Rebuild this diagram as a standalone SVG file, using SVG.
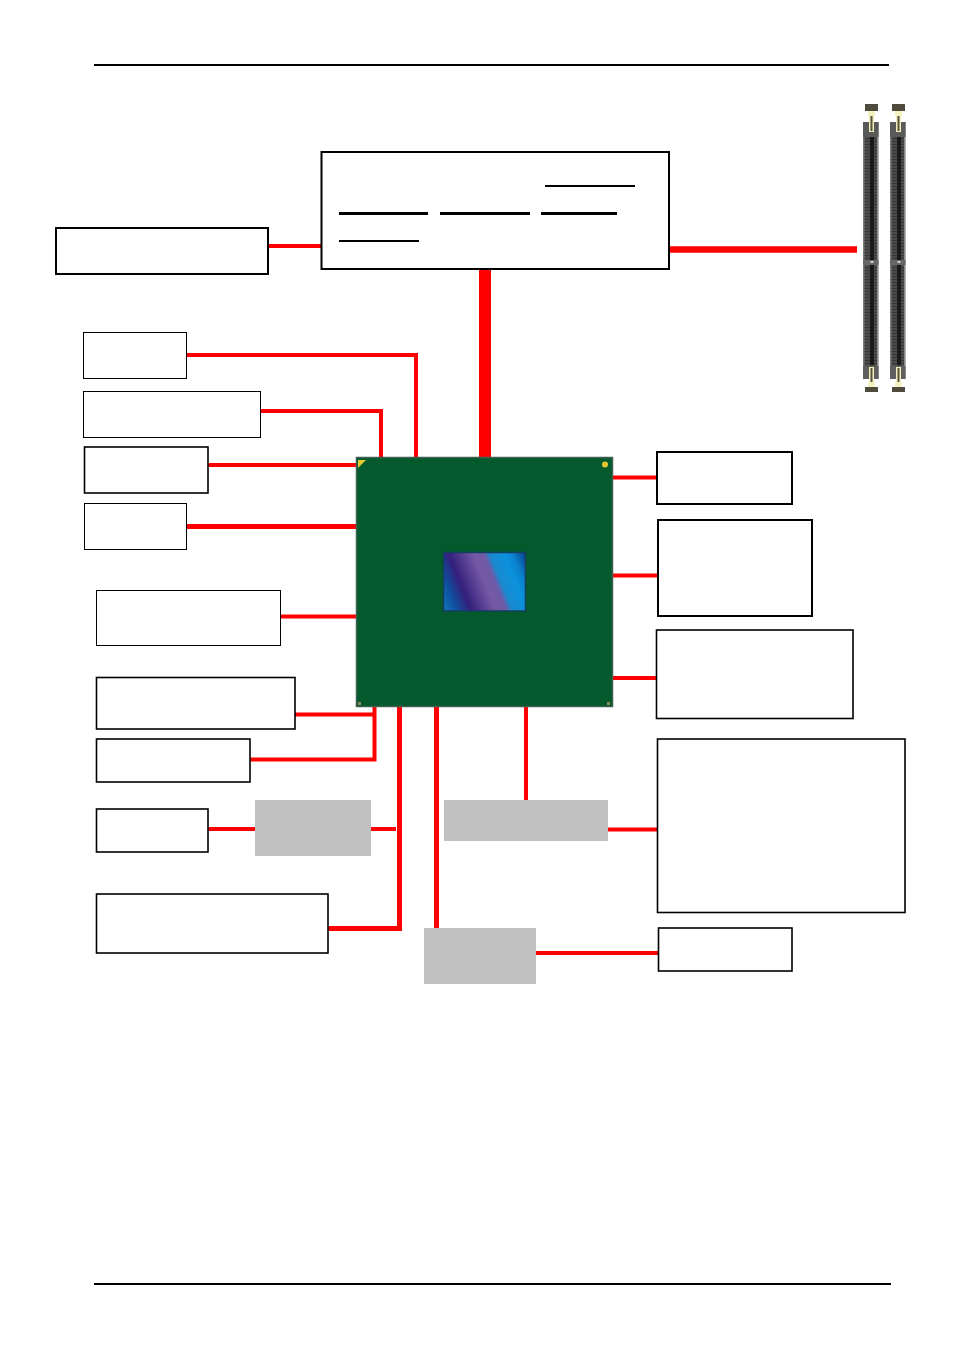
<svg xmlns="http://www.w3.org/2000/svg" width="954" height="1352" viewBox="0 0 954 1352">
<style>
.b{fill:#fff;stroke:#000;stroke-width:2}
.m{fill:#fff;stroke:#000;stroke-width:1.600}
.t{fill:#fff;stroke:#000;stroke-width:1}
.g{fill:#c0c0c0}
.c{fill:none;stroke:#f00;stroke-width:4;stroke-linejoin:miter}
.u{stroke:#000;fill:none}
</style>
<defs>
<linearGradient id="die" gradientUnits="userSpaceOnUse" x1="444" y1="611" x2="534" y2="575">
<stop offset="0" stop-color="#1575c0"/><stop offset="0.13" stop-color="#0f4f9e"/><stop offset="0.26" stop-color="#33207c"/><stop offset="0.5" stop-color="#7558a4"/><stop offset="0.6" stop-color="#6f5aa8"/><stop offset="0.66" stop-color="#1a8ad0"/><stop offset="0.8" stop-color="#0a92dc"/><stop offset="0.88" stop-color="#0a80cc"/><stop offset="1" stop-color="#0b3f8c"/>
</linearGradient>
<pattern id="pins" width="16" height="3" patternUnits="userSpaceOnUse">
<rect width="16" height="3" fill="#4c4c4c"/><rect width="16" height="1" y="1" fill="#383838"/><rect x="0" width="1.500" height="3" fill="#7a7a7a"/><rect x="14" width="1.500" height="3" fill="#8a8a8a"/>
</pattern>
<g id="slot">
<rect x="0" y="18" width="15.500" height="257" fill="url(#pins)"/>
<rect x="0" y="18" width="15.500" height="15" fill="#5a5a5a"/>
<rect x="0" y="262" width="15.500" height="13" fill="#5f5f5f"/>
<rect x="7" y="33" width="4" height="228" fill="#1b1a18"/>
<rect x="0" y="156" width="15.500" height="5" fill="#666"/>
<rect x="7.500" y="157" width="3" height="2" fill="#ccc"/>
<rect x="2" y="0" width="13" height="7" fill="#4e4b3c"/>
<rect x="5" y="7" width="7" height="5" fill="#f4f0c0"/>
<rect x="6" y="12" width="5" height="16" fill="#f2eebc"/>
<rect x="7.500" y="12" width="2" height="15" fill="#55533f"/>
<rect x="6" y="263" width="5" height="15" fill="#f2eebc"/>
<rect x="7.500" y="264" width="2" height="14" fill="#55533f"/>
<rect x="5" y="278" width="7" height="5" fill="#f4f0c0"/>
<rect x="2" y="283" width="13" height="5" fill="#4e4b3c"/>
</g>
</defs>

<g id="rules">
<rect x="94" y="64" width="795" height="2" fill="#000"/>
<rect x="94" y="1283" width="797" height="2" fill="#000"/>
</g>

<g id="connectors">
<path class="c" d="M268 246H322"/>
<path class="c" style="stroke-width:6.500" d="M669 249.500H857"/>
<path class="c" style="stroke-width:12" d="M485 269V458"/>
<path class="c" d="M187 355H416V458"/>
<path class="c" d="M260 411H381V458"/>
<path class="c" d="M208 465H357"/>
<path class="c" style="stroke-width:5" d="M187 526.500H357"/>
<path class="c" d="M280 616.500H357"/>
<path class="c" d="M295 714.500H374"/>
<path class="c" d="M250 759.500H374.500V706"/>
<path class="c" d="M208 829H255"/>
<path class="c" d="M371 829H396"/>
<path class="c" style="stroke-width:5" d="M399.500 706V928.500H328"/>
<path class="c" style="stroke-width:5" d="M436.500 706V928"/>
<path class="c" d="M526 706V800"/>
<path class="c" d="M608 829.500H657"/>
<path class="c" d="M536 953H658"/>
<path class="c" d="M612 477.500H657"/>
<path class="c" d="M612 575.500H658"/>
<path class="c" d="M612 678H657"/>
</g>

<g id="memory-controller">
<rect class="b" x="321.500" y="152" width="347.500" height="117"/>
<path class="u" style="stroke-width:2" d="M545 186H635"/>
<path class="u" style="stroke-width:3" d="M339 213.500H428M440 213.500H530M541 213.500H617"/>
<path class="u" style="stroke-width:2" d="M339 241H419"/>
</g>
<g id="n-left-top"><rect class="b" x="56" y="228" width="212" height="46"/></g>
<g id="n-a"><rect class="t" x="83.500" y="332.500" width="103" height="46"/></g>
<g id="n-b"><rect class="t" x="83.500" y="391.500" width="177" height="46"/></g>
<g id="n-c"><rect class="m" x="84.500" y="447" width="123.500" height="46"/></g>
<g id="n-d"><rect class="t" x="84.500" y="503.500" width="102" height="46"/></g>
<g id="n-e"><rect class="t" x="96.500" y="590.500" width="184" height="55"/></g>
<g id="n-f"><rect class="m" x="96.500" y="677.500" width="198.500" height="51.500"/></g>
<g id="n-g"><rect class="m" x="96.500" y="739" width="153.500" height="43"/></g>
<g id="n-h"><rect class="m" x="96.500" y="809" width="111.500" height="43"/></g>
<g id="n-i"><rect class="m" x="96.500" y="894" width="231.500" height="59"/></g>
<g id="n-gray1"><rect class="g" x="255" y="800" width="116" height="56"/></g>
<g id="n-gray2"><rect class="g" x="444" y="800" width="164" height="41"/></g>
<g id="n-gray3"><rect class="g" x="424" y="928" width="112" height="56"/></g>
<g id="n-r1"><rect class="b" x="657" y="452" width="135" height="52"/></g>
<g id="n-r2"><rect class="b" x="658" y="520" width="154" height="96"/></g>
<g id="n-r3"><rect class="m" x="656.500" y="630" width="196.500" height="88.500"/></g>
<g id="n-r4"><rect class="m" x="657.500" y="739" width="247.500" height="173.500"/></g>
<g id="n-r5"><rect class="m" x="658.500" y="928" width="133.500" height="43"/></g>

<g id="chip">
<rect x="356.500" y="457.500" width="256" height="249" fill="#045a2c" stroke="#3f5f50" stroke-width="1.500"/>
<path d="M358 460H366L358 468Z" fill="#e6c832"/>
<circle cx="605" cy="464.500" r="3" fill="#e6c832"/>
<rect x="358" y="702" width="3" height="3" fill="#8a8a5a"/>
<rect x="607" y="702" width="3" height="3" fill="#8a8a5a"/>
<rect x="443.500" y="552.500" width="82" height="58.500" fill="url(#die)" stroke="#123f5c" stroke-width="1.500"/>
</g>

<g id="dimm-slots">
<use href="#slot" x="863" y="104"/>
<use href="#slot" x="890" y="104"/>
</g>
</svg>
